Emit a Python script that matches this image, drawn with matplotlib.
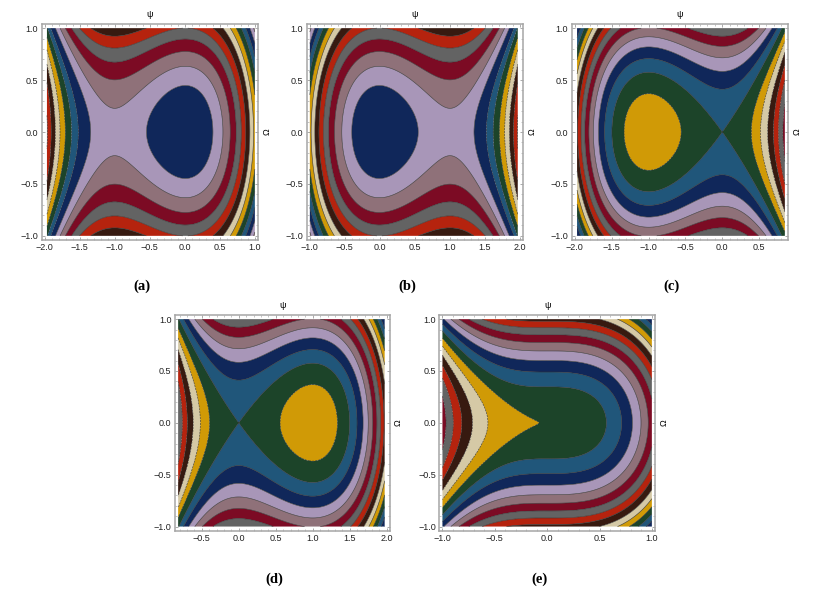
import numpy as np
import matplotlib
matplotlib.use('Agg')
import matplotlib.pyplot as plt
from matplotlib.ticker import MultipleLocator

plt.rcParams['font.family'] = ['Liberation Sans', 'DejaVu Sans']

# band colours going up in level, starting from the yellow band
band_colors = ['#d09a06', '#1c4429', '#20567a', '#10275a', '#a896b8', '#8f7179',
               '#7c0b24', '#636363', '#b5230e', '#371a10', '#d5c9a6']

# contour crossings read along the Omega = 0 row (psi position, level there)
psi_a = [-1.97, -1.9, -1.84, -1.785, -1.71, -1.62, -1.52, -1.33, -1.0, -0.55, 0.0,
         0.39, 0.55, 0.65, 0.74, 0.81, 0.87, 0.93, 0.98]
lev_a = [-0.6, -0.5, -0.4, -0.3, -0.2, -0.1, 0.0, 0.1, 0.167, 0.1, 0.0,
         0.1, 0.2, 0.3, 0.4, 0.5, 0.6, 0.7, 0.8]
psi_b = [1.97, 1.9, 1.84, 1.785, 1.71, 1.62, 1.52, 1.33, 1.0, 0.55, 0.0,
         -0.39, -0.55, -0.65, -0.74, -0.81, -0.87, -0.93, -0.98]
lev_b = lev_a
psi_c = [-1.96, -1.92, -1.865, -1.81, -1.75, -1.68, -1.6, -1.5, -1.32, -1.0, -0.53,
         0.0, 0.395, 0.52, 0.61, 0.70, 0.76]
lev_c = [0.595, 0.51, 0.425, 0.34, 0.255, 0.17, 0.085, 0.0, -0.095, -0.167, -0.095,
         0.0, -0.095, -0.18, -0.265, -0.35, -0.435]
psi_d = [1.96, 1.92, 1.865, 1.81, 1.75, 1.68, 1.6, 1.5, 1.32, 1.0, 0.53,
         0.0, -0.395, -0.52, -0.61, -0.70, -0.76]
lev_d = lev_c
psi_e = [-1.0, -0.9, -0.81, -0.71, -0.56, -0.07, 0.0, 0.07, 0.55, 0.7, 0.8, 0.88, 0.95, 1.0]
lev_e = [-0.333, -0.243, -0.177, -0.119, -0.0585, 0.0, 0.0, 0.0, 0.055, 0.114, 0.17, 0.227, 0.286, 0.333]

# crossings read up the column through each centre (Omega position, level rise)
om_a = [0.0, 0.44, 0.63, 0.78, 0.89, 1.0]
rise_a = [0.0, 0.1, 0.2, 0.3, 0.4, 0.5]
om_c = [0.0, 0.38, 0.58, 0.71, 0.82, 0.92]
rise_c = [0.0, 0.0717, 0.1667, 0.2517, 0.3367, 0.4217]
om_e = [0.0, 0.346, 0.49, 0.6, 0.69, 0.775, 0.85, 0.917, 0.98]
rise_e = [0.0, 0.06, 0.12, 0.18, 0.24, 0.30, 0.36, 0.42, 0.48]

# contour levels of each panel; yellow is every 11th band, counted from the list start
levels_a = [-1.4, -1.3, -1.2, -1.1, -1.0, -0.9, -0.8, -0.7, -0.6, -0.5, -0.4, -0.3, -0.2, -0.1,
            -0.012, 0.1, 0.2, 0.3, 0.4, 0.5, 0.6, 0.7, 0.8, 0.9, 1.0, 1.1, 1.2, 1.3, 1.4]
levels_c = [-1.115, -1.03, -0.945, -0.86, -0.775, -0.69, -0.605, -0.52, -0.435, -0.35, -0.265, -0.18,
            -0.097, 0.0, 0.085, 0.17, 0.255, 0.34, 0.425, 0.51, 0.595, 0.68, 0.765, 0.85, 0.935,
            1.02, 1.105, 1.19, 1.275]
levels_e = [-0.72, -0.66, -0.6, -0.54, -0.48, -0.42, -0.36, -0.3, -0.24, -0.18, -0.12, -0.06,
            -0.0001, 0.06, 0.12, 0.18, 0.24, 0.3, 0.36, 0.42, 0.48, 0.54, 0.6, 0.66, 0.72, 0.78, 0.84, 0.9]

names = ['(a)', '(b)', '(c)', '(d)', '(e)']
psi_ranges = [(-2, 1), (-1, 2), (-2, 0.85), (-0.82, 2), (-1, 1)]
fill_ranges = [(-1.97, 1), (-1, 1.97), (-1.97, 0.85), (-0.82, 1.97), (-1, 1)]
frames = [(41.7, 24, 258, 240), (306.7, 24, 523, 240), (571.7, 24, 788, 240),
          (175, 315, 390, 530.7), (439.3, 315, 655, 530.7)]
name_xy = [(142, 286), (407, 286), (672, 286), (274, 579), (539, 579)]
W, H = 819, 598


def draw_panel(ax, psi, lev, om, rise, levels, psi_range, fill_range):
    v_fit = np.polyfit(psi, lev, 3)
    t_fit = np.polyfit(np.r_[om, -np.array(om)], np.r_[rise, rise], 2)
    x = np.linspace(fill_range[0], fill_range[1], 420)
    y = np.linspace(-1, 1, 301)
    xx, yy = np.meshgrid(x, y)
    # the flat point at psi = 0 keeps the level it was read at
    z = np.polyval(v_fit, xx) - np.polyval(v_fit, 0) + np.polyval(t_fit, yy) - np.polyval(t_fit, 0)

    colors = [band_colors[i % 11] for i in range(len(levels) - 1)]
    ax.contourf(xx, yy, z, levels=levels, colors=colors, antialiased=True)
    ax.contour(xx, yy, z, levels=levels, colors='#333333', linewidths=0.4)

    span = psi_range[1] - psi_range[0]
    ax.set_xlim(psi_range[0] - 0.015 * span, psi_range[1] + 0.015 * span)
    ax.set_ylim(-1.04, 1.04)
    ax.xaxis.set_major_locator(MultipleLocator(0.5))
    ax.yaxis.set_major_locator(MultipleLocator(0.5))
    ax.xaxis.set_minor_locator(MultipleLocator(0.1))
    ax.yaxis.set_minor_locator(MultipleLocator(0.1))
    ax.tick_params(which='major', direction='in', top=True, right=True, length=2.5,
                   width=0.5, color='#888888', labelsize=6.5, pad=2.5, labelcolor='#222222')
    ax.tick_params(which='minor', direction='in', top=True, right=True, length=1.3,
                   width=0.4, color='#999999')
    for s in ax.spines.values():
        s.set_color('#a6a6a6')
        s.set_linewidth(1.1)
    ax.text(0.5, 1.025, 'ψ', transform=ax.transAxes, ha='center', va='bottom', fontsize=6.5)
    ax.text(1.04, 0.5, 'Ω', transform=ax.transAxes, ha='center', va='center',
            rotation=90, fontsize=6.5)


fig = plt.figure(figsize=(W / 100, H / 100), dpi=100)
data = [(psi_a, lev_a, om_a, rise_a, levels_a),
        (psi_b, lev_b, om_a, rise_a, levels_a),
        (psi_c, lev_c, om_c, rise_c, levels_c),
        (psi_d, lev_d, om_c, rise_c, levels_c),
        (psi_e, lev_e, om_e, rise_e, levels_e)]

for i in range(5):
    l, t, r, b = frames[i]
    ax = fig.add_axes([l / W, 1 - b / H, (r - l) / W, (b - t) / H])
    draw_panel(ax, *data[i], psi_ranges[i], fill_ranges[i])
    fig.text(name_xy[i][0] / W, 1 - name_xy[i][1] / H, names[i], ha='center', va='center',
             fontsize=10.5, fontweight='bold', family='Liberation Serif')

fig.savefig('out.png', dpi=100)
